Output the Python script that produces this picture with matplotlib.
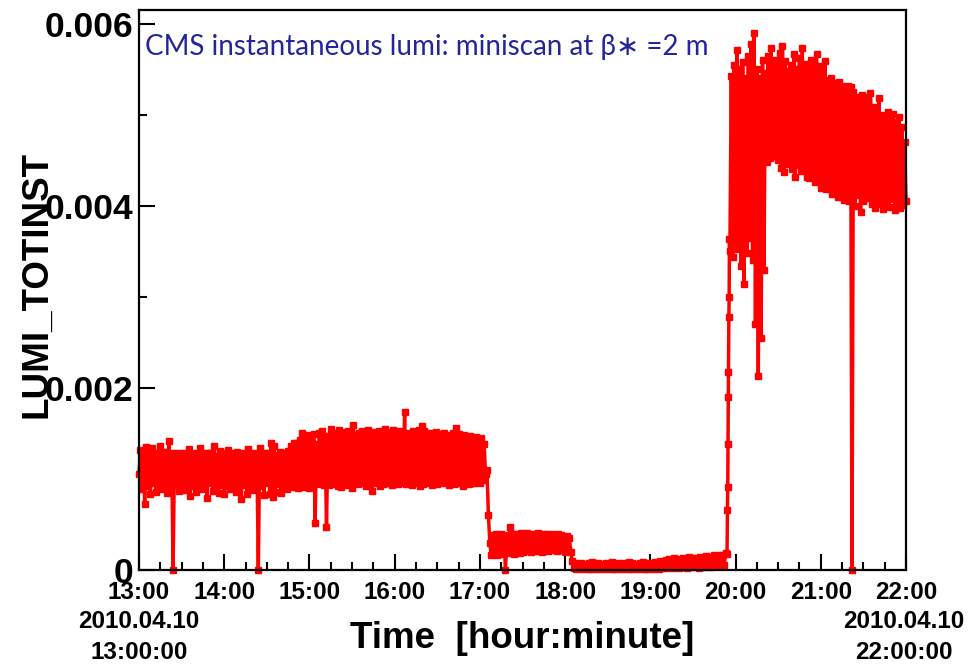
import matplotlib
matplotlib.use("Agg")
import matplotlib.pyplot as plt
import numpy as np

# instantaneous luminosity, units of 1e-4
# lower readings, taken on the even minutes after 13:00 (13:00, 13:02, ...)
lo_1300 = [10.5, 8.9, 7.3, 9.2, 8.4, 9.6, 8.6, 9.0, 8.9, 9.4,
           8.5, 9.1, 0.0, 9.3, 8.7, 9.5, 8.8, 9.0, 8.1, 9.2,
           8.6, 9.4, 8.9, 9.1, 7.9, 9.5, 8.7, 9.0, 8.5, 9.3,
           8.4, 9.2, 8.9, 9.6, 8.6, 9.1, 7.8, 9.3, 8.4, 9.0,
           8.8, 9.4, 0.0, 9.2, 8.2, 9.5, 8.3, 8.0, 8.6, 9.4,
           8.5, 9.2, 8.9, 9.6, 9.1]
lo_1450 = [9.2, 9.0, 9.3, 9.1, 9.4, 9.0, 9.3, 5.2, 9.4, 9.6,
           9.3, 4.7, 9.3, 9.6, 9.4, 9.2, 9.1, 9.6, 9.3, 9.5,
           9.0, 9.6, 9.4, 9.7, 9.5, 9.2, 9.6, 8.7, 9.5, 9.6,
           9.2, 9.4, 9.5, 9.6, 9.3, 9.5, 9.4, 9.6, 9.8, 9.4,
           9.7, 9.3, 9.5, 9.6, 9.2, 9.4, 9.7, 9.5, 9.3, 9.6,
           9.4, 9.5, 9.8, 9.6, 9.3, 9.7, 9.4, 9.5, 9.6, 9.2,
           9.7, 9.4, 9.6, 9.5, 9.8, 9.6, 9.9, 10.5]
lo_1706 = [6.0, 1.6, 1.8, 1.7, 1.9, 1.8, 0.0, 1.9, 2.0, 1.8,
           2.1, 1.9, 2.0, 2.2, 2.1, 2.0, 2.2, 2.1, 2.3, 2.0,
           2.2, 2.1, 2.3, 2.2, 2.1, 2.3, 2.2, 2.0, 2.2, 2.0]
lo_1806 = [0.2, 0.1, 0.2, 0.1, 0.2, 0.1, 0.1, 0.2, 0.1, 0.2,
           0.1, 0.2, 0.1, 0.2, 0.1, 0.1, 0.2, 0.1, 0.2, 0.1,
           0.2, 0.1, 0.2, 0.1, 0.2, 0.1, 0.1, 0.2, 0.1, 0.2,
           0.1, 0.2, 0.3, 0.2, 0.3, 0.2, 0.3, 0.2, 0.3, 0.3,
           0.2, 0.3, 0.4, 0.3, 0.2, 0.4, 0.3, 0.4, 0.3, 0.5,
           0.4, 0.5, 0.4, 0.5, 1.8]
lo_1956 = [35.0, 34.4, 36.0, 35.2, 33.4, 31.4, 34.8, 36.5, 34.0, 27.0,
           21.3, 25.5, 33.0, 44.8, 45.2, 45.5, 46.0, 45.0, 44.2, 43.7,
           44.6, 45.3, 44.0, 43.2, 44.5, 43.8, 44.3, 43.2, 43.0, 43.5,
           42.6, 43.0, 42.0, 42.4, 41.8, 42.2, 41.3, 41.6, 41.0, 41.5,
           40.6, 41.0, 40.5, 0.0, 40.0, 41.2, 39.3, 40.5, 40.8, 41.0,
           40.2, 39.8, 40.2, 41.0, 39.6, 40.4, 39.9, 40.7, 39.5, 40.3,
           39.8, 40.1, 40.5]

# upper readings, taken on the odd minutes (13:01, 13:03, ...)
hi_1300 = [13.2, 12.9, 13.5, 12.7, 13.4, 12.8, 12.6, 13.6, 12.9, 13.0,
           14.2, 12.8, 12.6, 12.9, 12.6, 12.8, 12.5, 13.3, 12.7, 12.9,
           12.4, 13.4, 12.7, 12.8, 12.9, 12.8, 13.6, 12.5, 13.1, 12.7,
           12.9, 13.2, 12.6, 12.8, 13.0, 12.5, 12.9, 12.7, 13.3, 12.6,
           12.8, 12.4, 13.4, 12.7, 12.8, 12.9, 14.0, 13.6, 12.6, 13.0,
           12.7, 12.9, 13.1, 13.6, 13.9]
hi_1450 = [14.0, 14.3, 15.1, 14.6, 14.8, 14.5, 14.9, 13.8, 15.0, 15.3,
           14.7, 13.9, 15.5, 15.0, 14.6, 15.4, 15.2, 14.9, 15.3, 15.0,
           15.9, 14.8, 15.1, 15.3, 14.9, 15.4, 15.0, 15.2, 14.8, 15.3,
           15.0, 15.5, 14.9, 15.2, 15.4, 15.0, 15.3, 15.1, 17.4, 15.0,
           14.8, 15.3, 14.9, 15.4, 15.8, 15.3, 14.7, 15.0, 14.8, 15.2,
           14.6, 14.9, 15.1, 14.5, 14.8, 15.0, 15.6, 14.9, 14.4, 14.8,
           14.5, 14.7, 14.3, 14.6, 14.2, 14.5, 13.8, 11.0]
hi_1706 = [3.0, 3.8, 3.9, 3.7, 3.9, 3.8, 3.7, 4.7, 3.9, 4.0,
           3.8, 4.1, 3.9, 4.1, 3.8, 4.0, 3.9, 4.1, 3.8, 4.0,
           3.9, 3.8, 4.0, 3.7, 3.9, 3.8, 3.6, 3.7, 3.5, 1.0]
hi_1806 = [0.8, 0.7, 0.8, 0.6, 0.7, 0.8, 0.9, 0.7, 0.8, 0.6,
           0.7, 0.8, 0.7, 0.9, 0.6, 0.8, 0.7, 0.8, 0.7, 0.9,
           0.8, 0.7, 0.6, 0.8, 0.9, 0.7, 0.8, 0.7, 0.9, 0.8,
           1.0, 0.9, 1.1, 1.2, 1.0, 1.3, 1.1, 1.2, 1.3, 1.1,
           1.4, 1.2, 1.3, 1.1, 1.4, 1.2, 1.5, 1.3, 1.4, 1.6,
           1.5, 1.7, 1.6, 1.9, 21.7]
hi_1956 = [54.2, 55.5, 57.1, 55.0, 55.8, 54.0, 56.4, 57.8, 59.0, 55.0,
           54.0, 56.0, 54.6, 56.5, 57.3, 56.0, 55.4, 56.8, 57.5, 55.9,
           54.8, 55.5, 56.7, 55.0, 56.2, 57.3, 55.6, 54.8, 56.0, 55.2,
           56.7, 55.4, 54.6, 55.9, 53.8, 54.0, 53.5, 52.8, 53.6, 53.2,
           52.7, 53.2, 53.0, 52.5, 52.0, 51.6, 52.2, 52.0, 51.3, 52.4,
           50.8, 50.5, 51.8, 50.0, 49.8, 50.3, 49.6, 50.1, 49.2, 49.8,
           48.6, 47.0]

# fast readings during the ramp up just before 20:00 (minutes after 13:00)
ramp_min = [414.3, 414.5, 414.7, 414.9, 415.3, 415.5, 415.7]
ramp_val = [6.6, 9.1, 13.8, 19.0, 27.8, 30.0, 36.4]

tick_hours = ['13:00', '14:00', '15:00', '16:00', '17:00', '18:00', '19:00',
              '20:00', '21:00', '22:00']
title = 'CMS instantaneous lumi: miniscan at \u03b2\u2217 =2 m'

even = lo_1300 + lo_1450 + lo_1706 + lo_1806 + lo_1956
odd = hi_1300 + hi_1450 + hi_1706 + hi_1806 + hi_1956
assert len(odd) == len(even) - 1

t = np.concatenate([2.0 * np.arange(len(even)), 2.0 * np.arange(len(odd)) + 1, ramp_min])
y = np.concatenate([even, odd, ramp_val]) * 1e-4
order = np.argsort(t, kind='stable')
t, y = t[order], y[order]

plt.rcParams['font.family'] = ['Liberation Sans', 'DejaVu Sans']
plt.rcParams['font.weight'] = 'bold'
plt.rcParams['path.simplify'] = False

fig = plt.figure(figsize=(9.7, 6.64), dpi=100)
ax = fig.add_axes([139 / 970, 1 - 570 / 664, 767 / 970, 560 / 664])

ax.plot(t, y, color='#ff0000', lw=2.5, marker='s', ms=4.4, mec='#ff0000',
        mfc='#ff0000', clip_on=False, zorder=3)

ax.set_xlim(0, 540)
ax.set_ylim(0, 0.00615)

ax.set_xticks(np.arange(0, 541, 60))
ax.set_xticklabels(tick_hours)
ax.set_xticks(np.arange(0, 541, 15), minor=True)
ax.set_yticks([0, 0.002, 0.004, 0.006])
ax.set_yticklabels(['0', '0.002', '0.004', '0.006'])
ax.set_yticks([0.001, 0.003, 0.005], minor=True)

ax.tick_params(axis='both', which='both', direction='in', width=1.5, color='black')
ax.tick_params(axis='both', which='major', length=11.5)
ax.tick_params(axis='both', which='minor', length=5.8)
ax.tick_params(axis='x', which='major', labelsize=17.5, pad=8)
ax.tick_params(axis='y', which='major', labelsize=25.5, pad=4)
for lab in ax.get_xticklabels() + ax.get_yticklabels():
    lab.set_fontweight('bold')

for s in ax.spines.values():
    s.set_linewidth(1.6)
    s.set_zorder(4)

ax.text(0.008, 0.958, title, transform=ax.transAxes, ha='left', va='top',
        fontsize=20, color='#25259a', fontweight='normal',
        family=['Lato', 'DejaVu Sans'])

fig.text(37 / 970, 1 - 285 / 664, 'LUMI_TOTINST', rotation=90, ha='center',
         va='center', fontsize=26.5, fontweight='bold')
fig.text(522 / 970, 1 - 638 / 664, 'Time  [hour:minute]', ha='center',
         va='center', fontsize=26.5, fontweight='bold')
fig.text(139 / 970, 1 - 637 / 664, '2010.04.10\n13:00:00', ha='center',
         va='center', fontsize=17.5, fontweight='bold', linespacing=1.45)
fig.text(904 / 970, 1 - 637 / 664, '2010.04.10\n22:00:00', ha='center',
         va='center', fontsize=17.5, fontweight='bold', linespacing=1.45)

fig.savefig('out.png', dpi=100, facecolor='white')
